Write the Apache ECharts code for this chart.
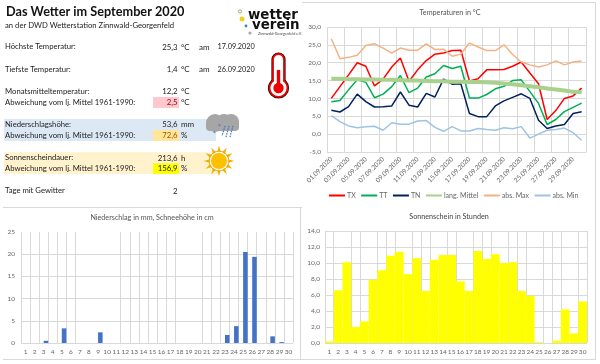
<!DOCTYPE html>
<html>
<head>
<meta charset="utf-8">
<title>Das Wetter im September 2020</title>
<script src="https://cdn.jsdelivr.net/npm/echarts@6/dist/echarts.min.js"></script>
<style>
  html, body { margin: 0; padding: 0; background: #fff; }
  #chart { width: 600px; height: 364px; }
</style>
</head>
<body>
<div id="chart"></div>
<script>
// Datum, Temperaturen
const dates = ['01.09.2020','02.09.2020','03.09.2020','04.09.2020','05.09.2020','06.09.2020','07.09.2020','08.09.2020','09.09.2020','10.09.2020',
  '11.09.2020','12.09.2020','13.09.2020','14.09.2020','15.09.2020','16.09.2020','17.09.2020','18.09.2020','19.09.2020','20.09.2020',
  '21.09.2020','22.09.2020','23.09.2020','24.09.2020','25.09.2020','26.09.2020','27.09.2020','28.09.2020','29.09.2020','30.09.2020'];
const tx = [10.0,13.3,16.6,20.0,19.0,13.5,15.4,18.8,21.3,14.8,18.0,20.6,22.4,22.7,23.4,23.5,14.9,15.5,18.0,18.0,18.1,19.0,20.2,17.1,14.1,4.1,6.6,10.0,10.7,12.9];
const tt = [9.1,9.4,12.4,15.2,14.5,10.2,11.2,13.3,16.4,11.6,12.9,16.0,16.9,19.2,18.4,19.0,10.1,10.1,11.1,12.7,13.4,15.0,15.2,11.9,8.6,2.7,4.1,6.3,7.5,8.7];
const tn = [6.7,6.2,7.7,11.2,9.1,7.6,7.7,7.9,11.8,8.1,7.6,11.4,10.4,15.4,14.0,14.1,5.8,4.9,4.9,7.9,9.3,10.3,11.3,10.0,3.9,1.6,2.3,2.7,5.8,6.3];
const langMittel = [15.5,15.5,15.4,15.4,15.3,15.3,15.2,15.2,15.1,15.0,15.0,14.9,14.8,14.8,14.7,14.7,14.6,14.6,14.5,14.4,14.2,14.0,13.7,13.4,13.1,12.8,12.5,12.2,11.9,11.7];
const absMax = [26.7,21.1,21.5,22.1,24.8,25.3,24.1,22.7,24.1,23.5,23.5,25.3,23.7,23.8,21.8,22.4,25.5,24.4,23.4,23.4,25.0,22.3,20.2,19.4,18.8,19.4,20.5,19.4,20.2,20.5];
const absMin = [5.2,3.5,2.3,1.8,2.1,2.2,1.1,3.2,2.8,2.8,3.7,3.8,1.9,0.8,2.1,0.9,0.9,1.6,1.3,1.1,1.8,1.5,2.1,-1.1,0.0,1.1,1.3,1.7,0.4,-1.7];

// Niederschlag, Schnee, Sonne
const days = ['1','2','3','4','5','6','7','8','9','10','11','12','13','14','15','16','17','18','19','20','21','22','23','24','25','26','27','28','29','30'];
const niederschlag = [0,0,0.5,0,3.3,0,0,0,2.4,0,0,0,0,0,0,0,0,0,0,0,0,0,1.8,3.8,20.5,19.4,0,1.5,0.2,0];
const schnee = [0,0,0,0,0,0,0,0,0,0,0,0,0,0,0,0,0,0,0,0,0,0,0,0,0,0,0,0,0,0];
const sonne = [0.2,6.6,10.1,2.0,2.7,7.9,9.1,10.9,11.4,8.6,10.6,6.5,10.4,11.0,11.0,7.7,6.5,11.5,10.5,11.1,10.0,10.1,6.5,5.9,0.1,0,0.3,4.2,1.2,5.2];

// im Original fehlende senkrechte Gitterlinien
const hiddenRegenLines = [7,8,9,10,18,19];
const hiddenSonneLines = [2,5,9,13,16,20,24,28];

// Textblock links oben
const labelRows = [
  ['Höchste Temperatur:', 47], ['Tiefste Temperatur:', 69.5], ['Monatsmitteltemperatur:', 91.7],
  ['Abweichung vom lj. Mittel 1961-1990:', 102.7], ['Niederschlagshöhe:', 124.3], ['Abweichung vom lj. Mittel 1961-1990:', 135.3],
  ['Sonnenscheindauer:', 158], ['Abweichung vom lj. Mittel 1961-1990:', 168.7], ['Tage mit Gewitter', 191]
];
const valueRows = [
  ['25,3', '°C', 47, '#222'], ['1,4', '°C', 69.5, '#222'], ['12,2', '°C', 91.7, '#222'],
  ['2,5', '°C', 102.7, '#9c0006'], ['53,6', 'mm', 124.3, '#222'], ['72,6', '%', 135.3, '#9c5700'],
  ['213,6', 'h', 158, '#222'], ['156,9', '%', 168.7, '#222'], ['2', '', 191, '#222']
];
const dateRows = [['17.09.2020', 47], ['26.09.2020', 69.5]];

const FONT = 'Lato';
const gridCol = '#d9d9d9';
const axisText = '#666';
const titleText = { fontSize: 7.2, fontWeight: 'normal', color: '#555', fontFamily: FONT };

const txt = (text, x, y, size, color, extra) => ({
  type: 'text', x, y,
  style: Object.assign({ text, fontFamily: FONT, fontSize: size, fill: color, verticalAlign: 'middle' }, extra || {})
});
const rect = (x, y, width, height, fill) => ({ type: 'rect', shape: { x, y, width, height }, style: { fill } });
const line = (x1, y1, x2, y2) => ({ type: 'line', shape: { x1, y1, x2, y2 }, style: { stroke: gridCol, lineWidth: 1 } });

// Sonne: Strahlen als Polygon
const sunRays = [];
for (let i = 0; i < 12; i++) {
  const a = i * Math.PI / 6;
  const b = 0.2;
  sunRays.push({
    type: 'polygon',
    shape: { points: [
      [219 + Math.cos(a) * 15.5, 161 + Math.sin(a) * 15.5],
      [219 + Math.cos(a - b) * 9, 161 + Math.sin(a - b) * 9],
      [219 + Math.cos(a + b) * 9, 161 + Math.sin(a + b) * 9]
    ] },
    style: { fill: '#f2b000' }
  });
}

const graphicItems = [
  // Rahmen der Diagramme
  line(3, 207.5, 302, 207.5), line(3, 359.5, 300, 359.5),
  line(302, 2.5, 595.5, 2.5), line(595.5, 2.5, 595.5, 360), line(300.5, 207, 300.5, 360), line(300, 359.5, 595.5, 359.5),
  // Hintergruende
  rect(4, 119, 212, 22, '#dce9f5'), rect(153, 130, 26, 11, '#ffe699'),
  rect(4, 152.3, 214, 21.7, '#fff2cc'), rect(153, 163.3, 26, 10.7, '#ffff00'),
  rect(153, 97, 26, 11, '#ffc7ce'),
  // Ueberschrift
  txt('Das Wetter im September 2020', 6, 11.7, 12.7, '#111', { fontWeight: 'bold' }),
  txt('an der DWD Wetterstation Zinnwald-Georgenfeld', 5, 25.7, 7.7, '#222'),
  txt('am', 199, 47, 8, '#222'), txt('am', 199, 69.5, 8, '#222'),
  // Logo
  txt('wetter', 248, 15.5, 13.4, '#111', { fontWeight: 'bold', fontFamily: 'DejaVu Sans' }),
  txt('verein', 252, 26, 13.4, '#111', { fontWeight: 'bold', fontFamily: 'DejaVu Sans' }),
  txt('Zinnwald-Georgenfeld e.V.', 258, 33.5, 3.8, '#444'),
  { type: 'circle', shape: { cx: 242, cy: 19, r: 2.5 }, style: { fill: '#f4d020' } },
  { type: 'circle', shape: { cx: 240, cy: 11.5, r: 1.6 }, style: { fill: 'none', stroke: '#8ab86a', lineWidth: 1 } },
  { type: 'circle', shape: { cx: 246, cy: 26, r: 1.4 }, style: { fill: '#4a7ab8' } },
  { type: 'circle', shape: { cx: 250, cy: 33, r: 1.6 }, style: { fill: '#aaa' } },
  // Thermometer
  { type: 'rect', shape: { x: 273, y: 54, width: 11, height: 38, r: 5.5 }, style: { fill: '#fff', stroke: '#111', lineWidth: 3.2 } },
  { type: 'circle', shape: { cx: 278.5, cy: 88, r: 9 }, style: { fill: '#fff', stroke: '#111', lineWidth: 3.2 } },
  { type: 'rect', shape: { x: 273, y: 54, width: 11, height: 38, r: 5.5 }, style: { fill: '#fff', stroke: '#ee0000', lineWidth: 1.8 } },
  { type: 'circle', shape: { cx: 278.5, cy: 88, r: 9 }, style: { fill: '#fff', stroke: '#ee0000', lineWidth: 1.8 } },
  { type: 'rect', shape: { x: 274, y: 78, width: 9, height: 8 }, style: { fill: '#fff' } },
  { type: 'rect', shape: { x: 276.8, y: 70, width: 3.4, height: 16 }, style: { fill: '#ee0000' } },
  { type: 'circle', shape: { cx: 278.5, cy: 88, r: 5.2 }, style: { fill: '#ee0000' } },
  // Wolke
  { type: 'circle', shape: { cx: 215, cy: 123, r: 9 }, style: { fill: '#a6a6a6' } },
  { type: 'circle', shape: { cx: 224, cy: 122, r: 8 }, style: { fill: '#a6a6a6' } },
  { type: 'circle', shape: { cx: 231, cy: 122, r: 8 }, style: { fill: '#a6a6a6' } },
  { type: 'rect', shape: { x: 206, y: 120, width: 33, height: 11, r: 4 }, style: { fill: '#a6a6a6' } },
  { type: 'polyline', shape: { points: [[225, 126], [222, 136]] }, style: { stroke: '#4472c4', lineWidth: 1.2, lineDash: [1.5, 1] } },
  { type: 'polyline', shape: { points: [[229, 126], [226, 137]] }, style: { stroke: '#4472c4', lineWidth: 1.2, lineDash: [1.5, 1] } },
  { type: 'polyline', shape: { points: [[233, 126], [230, 137]] }, style: { stroke: '#4472c4', lineWidth: 1.2, lineDash: [1.5, 1] } },
  txt('*', 218, 128, 7, '#4472c4'), txt('*', 213, 135, 7, '#4472c4'),
  // Sonne
  ...sunRays,
  { type: 'circle', shape: { cx: 219, cy: 161, r: 8 }, style: { fill: '#ffc000' } },
  { type: 'circle', shape: { cx: 219, cy: 161, r: 9 }, style: { fill: 'none', stroke: '#fff', lineWidth: 0.8 } },
  { type: 'circle', shape: { cx: 219, cy: 161, r: 10 }, style: { fill: 'none', stroke: '#e8a000', lineWidth: 0.8 } }
];
labelRows.forEach(r => graphicItems.push(txt(r[0], 5, r[1], 7.7, '#222')));
valueRows.forEach(r => {
  graphicItems.push(txt(r[0], 177.5, r[2], 7.8, r[3], { align: 'right' }));
  if (r[1]) graphicItems.push(txt(r[1], 181, r[2], 8, '#222'));
});
dateRows.forEach(r => graphicItems.push(txt(r[0], 217.5, r[1], 7.3, '#222')));

const lineSeries = (name, data, color, width) => ({
  name, type: 'line', data, xAxisIndex: 0, yAxisIndex: 0, symbol: 'none', silent: true,
  lineStyle: { color, width }, itemStyle: { color }
});

const chart = echarts.init(document.getElementById('chart'), null, { renderer: 'canvas' });
chart.setOption({
  animation: false,
  backgroundColor: '#fff',
  textStyle: { fontFamily: FONT },
  title: [
    { text: 'Temperaturen in °C', left: 450, top: 9, padding: 0, textAlign: 'center', textStyle: titleText },
    { text: 'Niederschlag in mm, Schneehöhe in cm', left: 152, top: 214, padding: 0, textAlign: 'center', textStyle: titleText },
    { text: 'Sonnenschein in Stunden', left: 449, top: 213, padding: 0, textAlign: 'center', textStyle: Object.assign({}, titleText, { color: '#444' }) }
  ],
  legend: {
    left: 329, top: 192, padding: 0, icon: 'rect', itemWidth: 16, itemHeight: 2, itemGap: 5.5,
    data: ['TX', 'TT', 'TN', 'lang. Mittel', 'abs. Max', 'abs. Min'],
    textStyle: { fontSize: 7, color: axisText, fontFamily: FONT, padding: [0, 0, 0, -3] }
  },
  grid: [
    { left: 327, top: 27, width: 259, height: 125 },
    { left: 21, top: 232, width: 272, height: 111 },
    { left: 325, top: 231, width: 262, height: 112 }
  ],
  xAxis: [
    {
      gridIndex: 0, type: 'category', data: dates,
      axisLine: { onZero: false, lineStyle: { color: gridCol } }, axisTick: { show: false },
      axisLabel: { interval: 1, rotate: 45, fontSize: 6.5, color: axisText, margin: 6 },
      splitLine: { show: true, interval: 1, lineStyle: { color: gridCol, width: 1 } }
    },
    {
      gridIndex: 1, type: 'category', data: days,
      axisLine: { show: false }, axisTick: { show: false },
      axisLabel: { interval: 0, fontSize: 6.5, color: axisText, margin: 5 },
      splitLine: { show: true, interval: i => !hiddenRegenLines.includes(i), lineStyle: { color: gridCol, width: 1 } }
    },
    {
      gridIndex: 2, type: 'category', data: days,
      axisLine: { show: false }, axisTick: { show: false },
      axisLabel: { interval: 0, fontSize: 6.5, color: axisText, margin: 5 },
      splitLine: { show: true, interval: i => !hiddenSonneLines.includes(i), lineStyle: { color: gridCol, width: 1 } }
    }
  ],
  yAxis: [
    {
      gridIndex: 0, type: 'value', min: -5, max: 30, interval: 5,
      axisLine: { show: false }, axisTick: { show: false },
      axisLabel: { fontSize: 6.5, color: axisText, margin: 6, formatter: v => v.toFixed(1).replace('.', ',') },
      splitLine: { lineStyle: { color: gridCol, width: 1 } }
    },
    {
      gridIndex: 1, type: 'value', min: 0, max: 25, interval: 5,
      axisLine: { show: false }, axisTick: { show: false },
      axisLabel: { fontSize: 6.5, color: axisText, margin: 6 },
      splitLine: { showMaxLine: false, lineStyle: { color: gridCol, width: 1 } }
    },
    {
      gridIndex: 2, type: 'value', min: 0, max: 14, interval: 2,
      axisLine: { show: false }, axisTick: { show: false },
      axisLabel: { fontSize: 6.5, color: axisText, margin: 5, formatter: v => v.toFixed(1).replace('.', ',') },
      splitLine: { lineStyle: { color: gridCol, width: 1 } }
    }
  ],
  series: [
    lineSeries('TX', tx, '#ff0000', 1.5),
    lineSeries('TT', tt, '#00b050', 1.5),
    lineSeries('TN', tn, '#002060', 1.5),
    lineSeries('lang. Mittel', langMittel, '#a9d18e', 4),
    lineSeries('abs. Max', absMax, '#f4b183', 1.5),
    lineSeries('abs. Min', absMin, '#9dc3e6', 1.5),
    { name: 'Schneehöhe', type: 'bar', xAxisIndex: 1, yAxisIndex: 1, data: schnee, barGap: 0, barCategoryGap: 0, itemStyle: { color: '#ed7d31' }, silent: true },
    { name: 'Niederschlag', type: 'bar', xAxisIndex: 1, yAxisIndex: 1, data: niederschlag, barGap: 0, barCategoryGap: 0, itemStyle: { color: '#4472c4' }, silent: true },
    { name: 'Sonnenschein', type: 'bar', xAxisIndex: 2, yAxisIndex: 2, data: sonne, barCategoryGap: 0, itemStyle: { color: '#ffff00' }, silent: true }
  ],
  graphic: { elements: graphicItems }
});
</script>
</body>
</html>
